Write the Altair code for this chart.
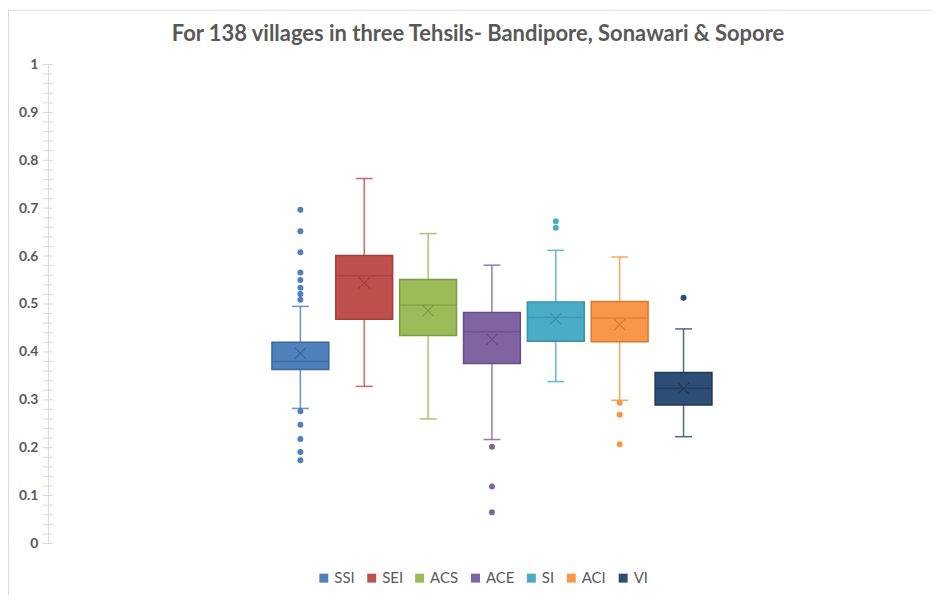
import altair as alt
import pandas as pd

title_text = "For 138 villages in three Tehsils- Bandipore, Sonawari & Sopore"
cats = ["SSI", "SEI", "ACS", "ACE", "SI", "ACI", "VI"]
whisker_low = [0.282, 0.328, 0.260, 0.217, 0.338, 0.299, 0.223]
q1 = [0.363, 0.468, 0.434, 0.376, 0.422, 0.421, 0.289]
median = [0.380, 0.559, 0.498, 0.442, 0.472, 0.471, 0.324]
q3 = [0.420, 0.601, 0.551, 0.482, 0.504, 0.505, 0.357]
whisker_high = [0.495, 0.762, 0.647, 0.581, 0.612, 0.598, 0.448]
mean = [0.397, 0.544, 0.486, 0.426, 0.469, 0.457, 0.324]
outliers = {
    "SSI": [0.697, 0.652, 0.608, 0.566, 0.550, 0.534, 0.521, 0.509,
            0.276, 0.248, 0.218, 0.191, 0.174],
    "SEI": [],
    "ACS": [],
    "ACE": [0.202, 0.119, 0.065],
    "SI": [0.673, 0.659],
    "ACI": [0.294, 0.269, 0.207],
    "VI": [0.513],
}
major_ticks = [i / 10 for i in range(11)]
minor_ticks = [i / 50 for i in range(51)]

fills = ["#4F81BD", "#C0504D", "#9BBB59", "#8064A2", "#4BACC6", "#F79646", "#2C4D75"]
darks = ["#3B669B", "#A0403D", "#7D9B45", "#654F86", "#3791A9", "#D8792F", "#1F3856"]

stats = pd.DataFrame({
    "cat": cats, "lo": whisker_low, "q1": q1, "med": median,
    "q3": q3, "hi": whisker_high, "mean": mean,
})
out_df = pd.DataFrame([{"cat": c, "v": v} for c in cats for v in outliers[c]])
ticks_df = pd.DataFrame({"t": sorted(set(major_ticks + minor_ticks))})

x_enc = alt.X("cat:N", sort=cats,
              scale=alt.Scale(domain=cats, range=[221, 669],
                              paddingInner=0.11, paddingOuter=0.055),
              axis=None)
y_scale = alt.Scale(domain=[0, 1], nice=False)
fill_scale = alt.Scale(domain=cats, range=fills)
dark_scale = alt.Scale(domain=cats, range=darks)

base = alt.Chart(stats)

whisk = base.mark_rule(strokeWidth=1.5, opacity=0.85).encode(
    x=x_enc,
    y=alt.Y("lo:Q", scale=y_scale,
            axis=alt.Axis(values=major_ticks, format="~g", ticks=False,
                          labelPadding=10, title=None, grid=False,
                          domainColor="#D9D9D9", domainWidth=1,
                          labelFont="Lato", labelFontSize=14,
                          labelFontWeight="bold", labelColor="#595959")),
    y2="hi:Q",
    stroke=alt.Stroke("cat:N", scale=fill_scale, legend=None),
)
cap_lo = base.mark_tick(size=17, thickness=1.5, opacity=0.85).encode(
    x=x_enc, y=alt.Y("lo:Q", scale=y_scale),
    color=alt.Color("cat:N", scale=fill_scale, legend=None),
)
cap_hi = base.mark_tick(size=17, thickness=1.5, opacity=0.85).encode(
    x=x_enc, y=alt.Y("hi:Q", scale=y_scale),
    color=alt.Color("cat:N", scale=fill_scale, legend=None),
)
box = base.mark_bar(strokeWidth=1.5).encode(
    x=x_enc,
    y=alt.Y("q1:Q", scale=y_scale),
    y2="q3:Q",
    fill=alt.Fill("cat:N", scale=fill_scale,
                  legend=alt.Legend(title=None, orient="none", direction="horizontal",
                                    legendX=269, legendY=507, padding=0,
                                    symbolType="square", symbolSize=81,
                                    symbolStrokeWidth=0,
                                    labelFont="Lato", labelFontSize=15,
                                    labelColor="#595959", labelOffset=3,
                                    columnPadding=9)),
    stroke=alt.Stroke("cat:N", scale=dark_scale, legend=None),
)
med = base.mark_tick(size=57, thickness=1.5).encode(
    x=x_enc, y=alt.Y("med:Q", scale=y_scale),
    color=alt.Color("cat:N", scale=dark_scale, legend=None),
)
mean_pt = base.mark_point(shape="M-1,-1L1,1M-1,1L1,-1", filled=False,
                          size=130, strokeWidth=1.2, opacity=0.9).encode(
    x=x_enc, y=alt.Y("mean:Q", scale=y_scale),
    stroke=alt.Stroke("cat:N", scale=dark_scale, legend=None),
)
outl = alt.Chart(out_df).mark_circle(size=36, opacity=1).encode(
    x=x_enc, y=alt.Y("v:Q", scale=y_scale),
    color=alt.Color("cat:N", scale=fill_scale, legend=None),
)
tick_marks = alt.Chart(ticks_df).mark_rule(color="#D9D9D9", strokeWidth=1).encode(
    x=alt.value(-5), x2=alt.value(5), y=alt.Y("t:Q", scale=y_scale),
)
one = pd.DataFrame({"a": [0]})
border_left = alt.Chart(one).mark_rule(stroke="#D9D9D9", strokeWidth=1).encode(
    x=alt.value(-39.5), y=alt.value(-54.5), y2=alt.value(1200),
)
border_top = alt.Chart(one).mark_rule(stroke="#D9D9D9", strokeWidth=1).encode(
    x=alt.value(-39.5), x2=alt.value(1200), y=alt.value(-54.5),
)
title_mark = alt.Chart(one).mark_text(
    font="Lato", fontSize=22, fontWeight="bold", color="#595959",
    align="center", baseline="alphabetic").encode(
    x=alt.value(431), y=alt.value(-24), text=alt.value(title_text),
)

chart = alt.layer(
    border_left, border_top, tick_marks, whisk, cap_lo, cap_hi, box, med,
    mean_pt, outl, title_mark
).resolve_scale(
    color="independent", stroke="independent"
).properties(
    width=886, height=480,
    autosize=alt.AutoSizeParams(type="none"),
    padding={"left": 40, "top": 56, "right": 0, "bottom": 51},
).configure_view(stroke=None)

chart.save("out.html", embed_options={"renderer": "svg", "actions": False})
